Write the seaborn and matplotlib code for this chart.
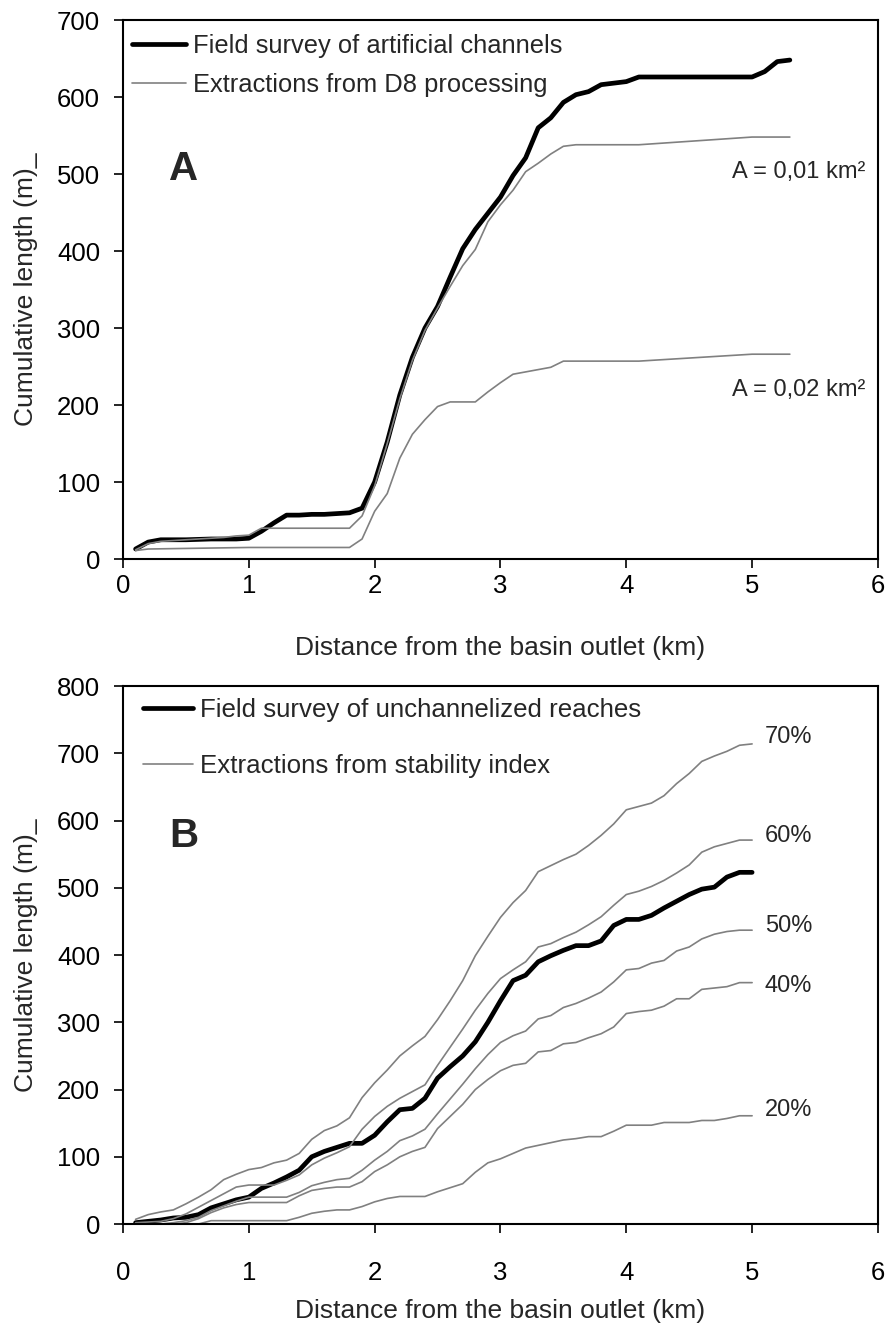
import matplotlib
matplotlib.use("Agg")
import matplotlib.pyplot as plt
import seaborn as sns

# ---- panel A: artificial channels ----
a_field_x = [0.1, 0.2, 0.3, 0.4, 0.5, 0.6, 0.7, 0.8, 0.9, 1.0, 1.1, 1.2, 1.3, 1.4, 1.5, 1.6, 1.7, 1.8, 1.9,
             2.0, 2.1, 2.2, 2.3, 2.4, 2.5, 2.6, 2.7, 2.8, 2.9, 3.0, 3.1, 3.2, 3.3, 3.4, 3.5, 3.6, 3.7, 3.8,
             3.9, 4.0, 4.1, 5.0, 5.1, 5.2, 5.3]
a_field_y = [13, 22, 25, 25, 25, 25.5, 26, 26, 26, 27, 36, 47, 57, 57, 58, 58, 59, 60, 66,
             100, 152, 213, 262, 300, 328, 366, 403, 428, 449, 470, 498, 521, 560, 573, 593, 603, 607, 616,
             618, 620, 626, 626, 633, 646, 648]

a_d8_001_x = [0.1, 0.2, 0.3, 0.4, 0.5, 0.6, 0.7, 0.8, 0.9, 1.0, 1.1, 1.8, 1.9, 2.0, 2.1, 2.2, 2.3, 2.4,
              2.5, 2.6, 2.7, 2.8, 2.9, 3.0, 3.1, 3.2, 3.3, 3.4, 3.5, 3.6, 4.1, 5.0, 5.3]
a_d8_001_y = [12, 20, 23, 24, 25, 26, 27, 28, 30, 31, 40, 40, 56, 95, 150, 208, 258, 297,
              326, 354, 381, 402, 438, 460, 479, 503, 514, 526, 536, 538, 538, 548, 548]

a_d8_002_x = [0.1, 0.2, 1.0, 1.8, 1.9, 2.0, 2.1, 2.2, 2.3, 2.4, 2.5, 2.6, 2.8, 2.9, 3.0, 3.1, 3.2,
              3.4, 3.5, 4.1, 5.0, 5.3]
a_d8_002_y = [11, 13, 15, 15, 26, 62, 85, 131, 162, 181, 198, 204, 204, 217, 229, 240, 243,
              249, 257, 257, 266, 266]
a_area_labels = ["A = 0,01 km²", "A = 0,02 km²"]
a_area_label_y = [503, 219]

# ---- panel B: unchannelized reaches ----
b_x = [0.1, 0.2, 0.3, 0.4, 0.5, 0.6, 0.7, 0.8, 0.9, 1.0, 1.1, 1.2, 1.3, 1.4, 1.5, 1.6, 1.7, 1.8, 1.9, 2.0,
       2.1, 2.2, 2.3, 2.4, 2.5, 2.6, 2.7, 2.8, 2.9, 3.0, 3.1, 3.2, 3.3, 3.4, 3.5, 3.6, 3.7, 3.8, 3.9, 4.0,
       4.1, 4.2, 4.3, 4.4, 4.5, 4.6, 4.7, 4.8, 4.9, 5.0]
b_field = [2, 4, 6, 9, 10, 14, 24, 30, 36, 40, 53, 61, 70, 80, 100, 108, 114, 120, 120, 132,
           152, 170, 172, 187, 217, 234, 250, 271, 300, 332, 362, 370, 390, 399, 407, 414, 414, 421, 444, 453,
           453, 459, 470, 480, 490, 498, 501, 516, 523, 523]
b_70 = [7, 14, 18, 21, 30, 40, 51, 66, 74, 81, 84, 91, 95, 105, 126, 139, 146, 158, 188, 210,
        229, 250, 265, 279, 304, 332, 362, 399, 428, 456, 478, 496, 524, 533, 542, 550, 563, 578, 595, 616,
        621, 626, 637, 655, 670, 688, 696, 703, 712, 714]
b_60 = [2, 3, 4, 8, 15, 25, 35, 45, 55, 58, 58, 58, 65, 73, 88, 98, 106, 115, 141, 160,
        175, 187, 197, 207, 236, 263, 290, 318, 343, 365, 378, 390, 412, 417, 426, 434, 445, 457, 474, 490,
        495, 502, 511, 522, 534, 553, 561, 566, 571, 571]
b_50 = [0, 0, 0, 2, 5, 10, 20, 27, 34, 40, 40, 40, 40, 47, 57, 62, 66, 68, 80, 95,
        108, 124, 131, 141, 164, 186, 208, 231, 252, 270, 280, 287, 305, 310, 322, 328, 336, 345, 360, 378,
        380, 388, 392, 406, 412, 424, 431, 435, 437, 437]
b_40 = [0, 0, 0, 0, 2, 8, 17, 24, 29, 32, 32, 32, 32, 42, 50, 53, 55, 55, 63, 78,
        88, 100, 108, 114, 142, 160, 178, 200, 215, 228, 236, 239, 256, 258, 268, 270, 277, 283, 293, 313,
        316, 318, 324, 335, 335, 349, 351, 353, 359, 359]
b_20 = [0, 0, 0, 0, 0, 0, 5, 5, 5, 5, 5, 5, 5, 10, 16, 19, 21, 21, 26, 33,
        38, 41, 41, 41, 48, 54, 60, 77, 91, 97, 105, 113, 117, 121, 125, 127, 130, 130, 138, 147,
        147, 147, 151, 151, 151, 154, 154, 157, 161, 161]
b_threshold_labels = ["70%", "60%", "50%", "40%", "20%"]
b_label_y = [724, 577, 443, 354, 170]

GREY = "#808080"

sns.set_style("ticks")
plt.rcParams["font.family"] = ["Liberation Sans", "DejaVu Sans"]

fig = plt.figure(figsize=(8.85, 13.25), dpi=100)
ax1 = fig.add_axes([0.139, 0.5781, 0.853, 0.4068])
ax2 = fig.add_axes([0.139, 0.0762, 0.853, 0.406])

# panel A
sns.lineplot(x=a_field_x, y=a_field_y, ax=ax1, color="black", linewidth=3.4,
             label="Field survey of artificial channels")
sns.lineplot(x=a_d8_001_x, y=a_d8_001_y, ax=ax1, color=GREY, linewidth=1.2,
             label="Extractions from D8 processing")
sns.lineplot(x=a_d8_002_x, y=a_d8_002_y, ax=ax1, color=GREY, linewidth=1.2)
ax1.set_xlim(0, 6)
ax1.set_ylim(0, 700)
ax1.set_yticks(range(0, 701, 100))
ax1.text(0.48, 506, "A", fontsize=29, fontweight="bold", ha="center", va="center")
for lab, ly in zip(a_area_labels, a_area_label_y):
    ax1.text(5.9, ly, lab, fontsize=17, ha="right", va="center")

# panel B
sns.lineplot(x=b_x, y=b_field, ax=ax2, color="black", linewidth=3.4,
             label="Field survey of unchannelized reaches")
for i, ys in enumerate([b_70, b_60, b_50, b_40, b_20]):
    sns.lineplot(x=b_x, y=ys, ax=ax2, color=GREY, linewidth=1.2,
                 label="Extractions from stability index" if i == 0 else None)
for lab, ly in zip(b_threshold_labels, b_label_y):
    ax2.text(5.1, ly, lab, fontsize=17, ha="left", va="center")
ax2.set_xlim(0, 6)
ax2.set_ylim(0, 800)
ax2.set_yticks(range(0, 801, 100))
ax2.text(0.48, 577, "B", fontsize=29, fontweight="bold", ha="center", va="center")

for ax in (ax1, ax2):
    ax.set_xticks(range(0, 7))
    ax.set_ylabel("Cumulative length (m)_", fontsize=19, labelpad=14)
    ax.tick_params(labelsize=18.5, length=6.5, width=1.2, direction="out", colors="black")
    ax.tick_params(axis="y", pad=10)
    for s in ax.spines.values():
        s.set_visible(True)
        s.set_linewidth(1.5)
        s.set_color("black")

ax1.tick_params(axis="x", pad=4)
ax2.tick_params(axis="x", pad=20)
ax1.set_xlabel("Distance from the basin outlet (km)", fontsize=19, labelpad=28)
ax2.set_xlabel("Distance from the basin outlet (km)", fontsize=19, labelpad=10)

ax1.legend(loc="upper left", bbox_to_anchor=(0.012, 0.974), frameon=False, fontsize=18.4,
           handlelength=2.1, handletextpad=0.27, labelspacing=0.58,
           borderpad=0, borderaxespad=0)
ax2.legend(loc="upper left", bbox_to_anchor=(0.026, 0.978), frameon=False, fontsize=18.6,
           handlelength=1.95, handletextpad=0.27, labelspacing=1.23,
           borderpad=0, borderaxespad=0)

fig.savefig("out.png", dpi=100)
